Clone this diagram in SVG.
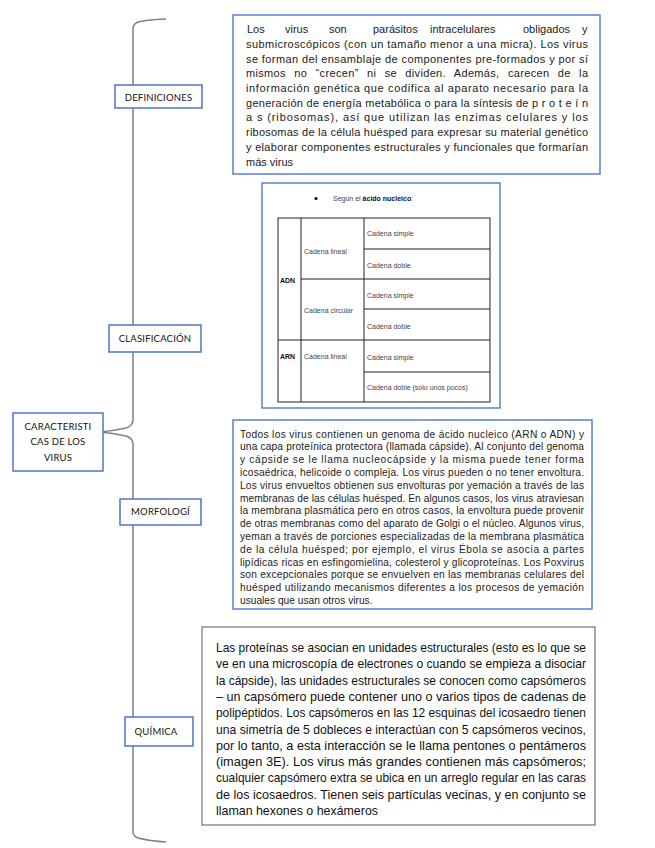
<svg xmlns="http://www.w3.org/2000/svg" width="655" height="848" viewBox="0 0 655 848">
<style>
.lbl{fill:#fff;stroke:#4f74c8;stroke-width:1.5}
.lt{font-family:Lato,"Open Sans",sans-serif;font-size:9.5px;fill:#111;text-anchor:middle;letter-spacing:0.2px}
.txt{fill:#fff;stroke:#5b7fd0;stroke-width:1.5}
.dt{font-family:"Liberation Sans",Arial,sans-serif;font-size:11px;fill:#222}
.mt{font-family:"Liberation Sans",Arial,sans-serif;font-size:10.2px;fill:#222}
.qt{font-family:"Liberation Sans",Arial,sans-serif;font-size:13.5px;fill:#111}
.tb{font-family:"Liberation Sans",Arial,sans-serif;font-size:7px;fill:#444}
.tbb{font-family:"Liberation Sans",Arial,sans-serif;font-size:7px;fill:#111;font-weight:bold}
.tl{stroke:#222;stroke-width:1;fill:none}
.brace{fill:none;stroke:#808080;stroke-width:1.5}
</style>
<g id="connectors">
<path class="brace" d="M166,19 Q142,20 136,23 Q133,25 133,29 L133,420 Q133,426 126,428 Q112,431 100,432 Q112,433 126,436 Q133,438 133,444 L133,832 Q133,836 138,838 Q150,841 166,842"/>
</g>
<g id="caracteristicas">
<rect class="lbl" x="13" y="413" width="90" height="58"/>
<text class="lt" x="58" y="430">CARACTERISTI</text>
<text class="lt" x="58" y="445">CAS DE LOS</text>
<text class="lt" x="58" y="461">VIRUS</text>
</g>
<g id="definiciones">
<rect class="lbl" x="115" y="85" width="87" height="23"/>
<text class="lt" x="158.5" y="101">DEFINICIONES</text>
</g>
<g id="clasificacion">
<rect class="lbl" x="109" y="325" width="92" height="27"/>
<text class="lt" x="155" y="341.5">CLASIFICACIÓN</text>
</g>
<g id="morfologia">
<rect class="lbl" x="120" y="499" width="81" height="26"/>
<text class="lt" x="160.5" y="515">MORFOLOGÍ</text>
</g>
<g id="quimica">
<rect class="lbl" x="125" y="717" width="68" height="29"/>
<text class="lt" x="156" y="735">QUÍMICA</text>
</g>
<g id="definiciones-texto">
<rect class="txt" x="233" y="15" width="367" height="159"/>
<text class="dt" y="33"><tspan x="247">Los</tspan><tspan x="285">virus</tspan><tspan x="329">son</tspan><tspan x="373">parásitos</tspan><tspan x="430">intracelulares</tspan><tspan x="523">obligados</tspan><tspan x="582">y</tspan></text>
<text class="dt" x="246" y="47.7" textLength="342" lengthAdjust="spacing">submicroscópicos (con un tamaño menor a una micra). Los virus</text>
<text class="dt" x="246" y="62.5" textLength="342" lengthAdjust="spacing">se forman del ensamblaje de componentes pre-formados y por sí</text>
<text class="dt" x="246" y="77.2" textLength="342" lengthAdjust="spacing" word-spacing="5">mismos no “crecen” ni se dividen. Además, carecen de la</text>
<text class="dt" x="246" y="92" textLength="342" lengthAdjust="spacing">información genética que codifica al aparato necesario para la</text>
<text class="dt" x="246" y="106.7" textLength="342" lengthAdjust="spacing">generación de energía metabólica o para la síntesis de p r o t e í n</text>
<text class="dt" x="246" y="121.4" textLength="342" lengthAdjust="spacing">a s (ribosomas), así que utilizan las enzimas celulares y los</text>
<text class="dt" x="246" y="136.2" textLength="342" lengthAdjust="spacing">ribosomas de la célula huésped para expresar su material genético</text>
<text class="dt" x="246" y="150.9" textLength="342" lengthAdjust="spacing">y elaborar componentes estructurales y funcionales que formarían</text>
<text class="dt" x="246" y="165.7">más virus</text>
</g>
<g id="clasificacion-tabla">
<rect class="txt" x="262" y="183" width="238" height="225"/>
<circle cx="316" cy="198.5" r="1.6" fill="#111"/>
<text class="tb" x="333" y="201">Según el <tspan class="tbb">ácido nucleico</tspan>:</text>
<rect class="tl" x="278" y="218" width="212" height="184"/>
<line class="tl" x1="301" y1="218" x2="301" y2="402"/>
<line class="tl" x1="364" y1="218" x2="364" y2="402"/>
<line class="tl" x1="364" y1="249" x2="490" y2="249"/>
<line class="tl" x1="301" y1="279" x2="490" y2="279"/>
<line class="tl" x1="364" y1="309" x2="490" y2="309"/>
<line class="tl" x1="278" y1="340" x2="490" y2="340"/>
<line class="tl" x1="364" y1="372" x2="490" y2="372"/>
<text class="tbb" x="280" y="283">ADN</text>
<text class="tbb" x="280" y="358.5">ARN</text>
<text class="tb" x="304" y="253.5">Cadena lineal</text>
<text class="tb" x="304" y="313">Cadena circular</text>
<text class="tb" x="304" y="358.5">Cadena lineal</text>
<text class="tb" x="367" y="235.5">Cadena simple</text>
<text class="tb" x="367" y="267.5">Cadena doble</text>
<text class="tb" x="367" y="297.5">Cadena simple</text>
<text class="tb" x="367" y="328.5">Cadena doble</text>
<text class="tb" x="367" y="359.5">Cadena simple</text>
<text class="tb" x="367" y="389.5">Cadena doble (solo unos pocos)</text>
</g>
<g id="morfologia-texto">
<rect class="txt" x="233" y="420" width="359" height="189"/>
<text class="mt" x="240" y="437.5" textLength="344" lengthAdjust="spacing">Todos los virus contienen un genoma de ácido nucleico (ARN o ADN) y</text>
<text class="mt" x="240" y="450.3" textLength="344" lengthAdjust="spacing">una capa proteínica protectora (llamada cápside). Al conjunto del genoma</text>
<text class="mt" x="240" y="463.1" textLength="344" lengthAdjust="spacing">y cápside se le llama nucleocápside y la misma puede tener forma</text>
<text class="mt" x="240" y="475.9" textLength="344" lengthAdjust="spacing">icosaédrica, helicoide o compleja. Los virus pueden o no tener envoltura.</text>
<text class="mt" x="240" y="488.7" textLength="344" lengthAdjust="spacing">Los virus envueltos obtienen sus envolturas por yemación a través de las</text>
<text class="mt" x="240" y="501.5" textLength="344" lengthAdjust="spacing">membranas de las células huésped. En algunos casos, los virus atraviesan</text>
<text class="mt" x="240" y="514.3" textLength="344" lengthAdjust="spacing">la membrana plasmática pero en otros casos, la envoltura puede provenir</text>
<text class="mt" x="240" y="527.1" textLength="344" lengthAdjust="spacing">de otras membranas como del aparato de Golgi o el núcleo. Algunos virus,</text>
<text class="mt" x="240" y="539.9" textLength="344" lengthAdjust="spacing">yeman a través de porciones especializadas de la membrana plasmática</text>
<text class="mt" x="240" y="552.7" textLength="344" lengthAdjust="spacing">de la célula huésped; por ejemplo, el virus Ébola se asocia a partes</text>
<text class="mt" x="240" y="565.5" textLength="344" lengthAdjust="spacing">lipídicas ricas en esfingomielina, colesterol y glicoproteínas. Los Poxvirus</text>
<text class="mt" x="240" y="578.3" textLength="344" lengthAdjust="spacing">son excepcionales  porque se envuelven en las membranas celulares del</text>
<text class="mt" x="240" y="591.1" textLength="344" lengthAdjust="spacing">huésped utilizando mecanismos diferentes a los procesos de yemación</text>
<text class="mt" x="240" y="603.9">usuales que usan otros virus.</text>
</g>
<g id="quimica-texto">
<rect x="202" y="627" width="393" height="198" fill="#fff" stroke="#595959" stroke-width="1"/>
<text class="qt" x="216" y="652" textLength="370" lengthAdjust="spacingAndGlyphs">Las proteínas se asocian en unidades estructurales (esto es lo que se</text>
<text class="qt" x="216" y="668.3" textLength="370" lengthAdjust="spacingAndGlyphs">ve en una microscopía de electrones o cuando se empieza a disociar</text>
<text class="qt" x="216" y="684.6" textLength="370" lengthAdjust="spacingAndGlyphs">la cápside), las unidades estructurales se conocen como capsómeros</text>
<text class="qt" x="216" y="700.9" textLength="370" lengthAdjust="spacingAndGlyphs">– un capsómero puede contener uno o varios tipos de cadenas de</text>
<text class="qt" x="216" y="717.2" textLength="370" lengthAdjust="spacingAndGlyphs">polipéptidos. Los capsómeros en las 12 esquinas del icosaedro tienen</text>
<text class="qt" x="216" y="733.5" textLength="370" lengthAdjust="spacingAndGlyphs">una simetría de 5 dobleces e interactúan con 5 capsómeros vecinos,</text>
<text class="qt" x="216" y="749.8" textLength="370" lengthAdjust="spacingAndGlyphs">por lo tanto, a esta interacción se le llama pentones o pentámeros</text>
<text class="qt" x="216" y="766.1" textLength="370" lengthAdjust="spacingAndGlyphs">(imagen 3E). Los virus más grandes contienen más capsómeros;</text>
<text class="qt" x="216" y="782.4" textLength="370" lengthAdjust="spacingAndGlyphs">cualquier capsómero extra se ubica en un arreglo regular en las caras</text>
<text class="qt" x="216" y="798.7" textLength="370" lengthAdjust="spacingAndGlyphs">de los icosaedros. Tienen seis partículas vecinas, y en conjunto se</text>
<text class="qt" x="216" y="815" textLength="162" lengthAdjust="spacingAndGlyphs">llaman hexones o hexámeros</text>
</g>
</svg>
